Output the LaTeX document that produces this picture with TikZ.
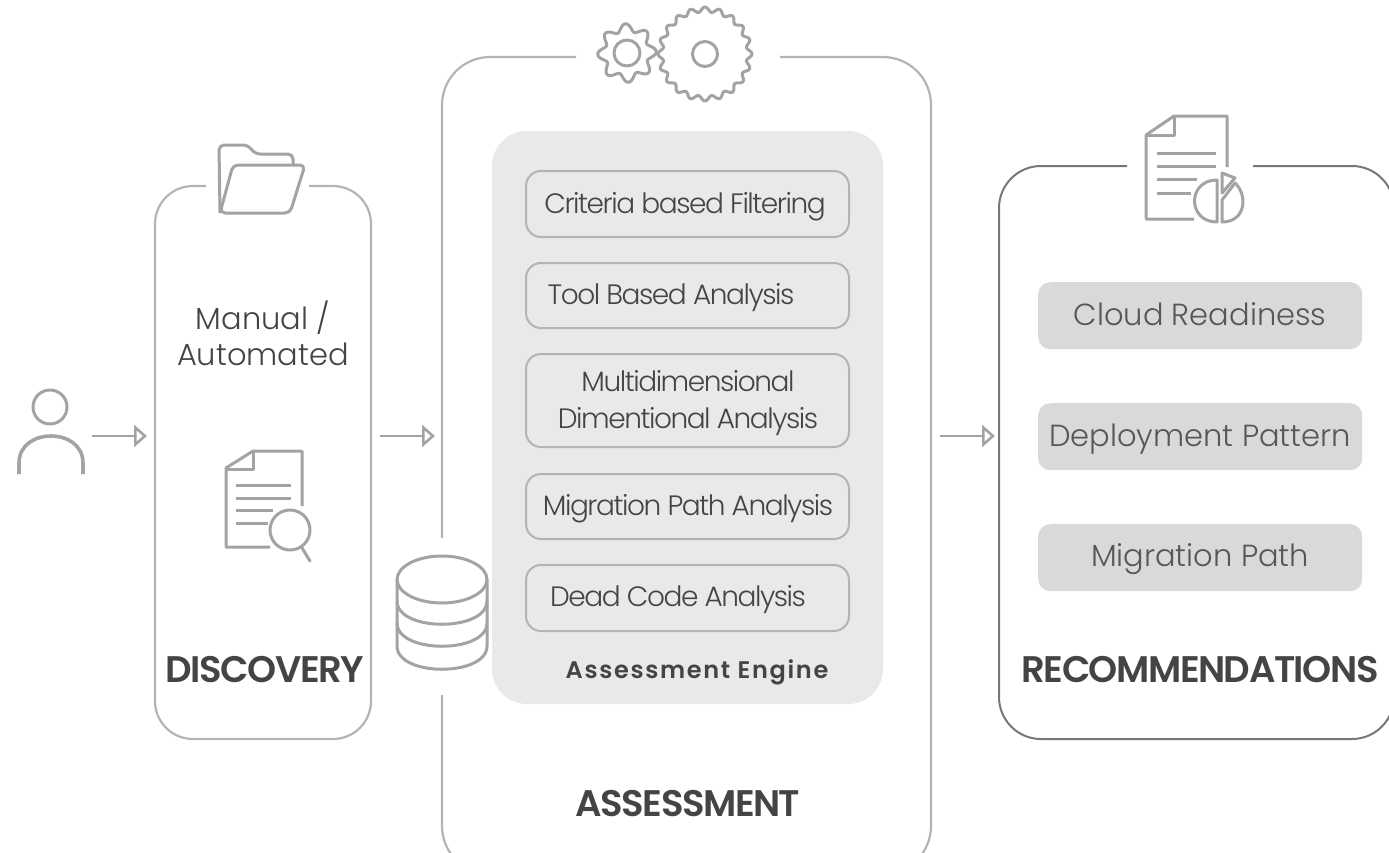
\documentclass[tikz,border=0pt]{standalone}
\usepackage{fontspec}
\usetikzlibrary{arrows.meta}
\newfontfamily\lightf[UprightFont=* Light,LetterSpace=-5.2]{Poppins}
\newfontfamily\lightw[UprightFont=* Light]{Poppins}
\newfontfamily\medf[UprightFont=* SemiBold,LetterSpace=-4]{Poppins}
\newfontfamily\medw[UprightFont=* SemiBold,LetterSpace=7]{Poppins}
\definecolor{icon}{HTML}{A3A3A3}
\definecolor{edge}{HTML}{B4B4B4}
\definecolor{dark}{HTML}{777777}
\definecolor{panel}{HTML}{E9E9E9}
\definecolor{chip}{HTML}{D9D9D9}
\definecolor{ink}{HTML}{444444}
\tikzset{
  x=1pt,y=-1pt,
  iconline/.style={draw=icon,line width=3pt,line join=round},
  frameline/.style={draw=edge,line width=2.2pt},
  flow/.style={draw=icon,line width=2.6pt,-{Triangle[open,length=13pt,width=22pt,line width=2.6pt]}},
  stepbox/.style={draw=edge,line width=2pt,fill=panel,rounded corners=15pt},
  chipbox/.style={fill=chip,rounded corners=12pt},
  steptext/.style={anchor=base,text=ink,font=\lightf\fontsize{28}{34}\selectfont,align=center,inner sep=0pt},
  chiptext/.style={anchor=base,text=ink!90,font=\lightw\fontsize{30.5}{36}\selectfont,inner sep=0pt},
  titletext/.style={anchor=base,text=ink,font=\medf\fontsize{37}{44}\selectfont,inner sep=0pt},
  plaintext/.style={anchor=base,text=ink,font=\lightw\fontsize{30.5}{37}\selectfont,inner sep=0pt},
}
\begin{document}
\begin{tikzpicture}
\useasboundingbox (0,0) rectangle (1389,852);
\clip (0,0) rectangle (1389,852);
% frames
\draw[frameline,rounded corners=38pt] (206,186) -- (155,186) -- (155,739) -- (371,739) -- (371,186) -- (309,186);
\draw[frameline,rounded corners=48pt] (576,57) -- (442,57) -- (442,538);
\draw[frameline,rounded corners=48pt] (442,695) -- (442,874) -- (931,874) -- (931,57) -- (780,57);
\draw[draw=dark,line width=2pt,rounded corners=42pt] (1127,166) -- (999,166) -- (999,739) -- (1394,739) -- (1394,166) -- (1253,166);
% engine panel
\fill[panel,rounded corners=35pt] (492,131) rectangle (883,704);
\node[stepbox,minimum width=323pt,minimum height=66pt,anchor=north west] (b1) at (525,170) {};
\node[stepbox,minimum width=323pt,minimum height=65pt,anchor=north west] (b2) at (525,262) {};
\node[stepbox,minimum width=323pt,minimum height=93pt,anchor=north west] (b3) at (525,353) {};
\node[stepbox,minimum width=323pt,minimum height=65pt,anchor=north west] (b4) at (525,473) {};
\node[stepbox,minimum width=323pt,minimum height=66pt,anchor=north west] (b5) at (525,564) {};
\node[steptext] (t1) at (685,213) {Criteria based Filtering};
\node[steptext] (t2) at (671,304) {Tool Based Analysis};
\node[steptext] (t3a) at (688,391) {Multidimensional};
\node[steptext] (t3b) at (688,428) {Dimentional Analysis};
\node[steptext] (t4) at (688,515) {Migration Path Analysis};
\node[steptext] (t5) at (678,606) {Dead Code Analysis};
\node[anchor=base,text=ink,font=\medw\fontsize{24}{28}\selectfont,inner sep=0pt] (eng) at (697,678) {Assessment Engine};
% chips
\node[chipbox,minimum width=324pt,minimum height=67pt,anchor=north west] (c1) at (1038,282) {};
\node[chipbox,minimum width=324pt,minimum height=67pt,anchor=north west] (c2) at (1038,403) {};
\node[chipbox,minimum width=324pt,minimum height=67pt,anchor=north west] (c3) at (1038,524) {};
\node[chiptext] (ct1) at (1200,325) {Cloud Readiness};
\node[chiptext] (ct2) at (1200,446) {Deployment Pattern};
\node[chiptext] (ct3) at (1200,566) {Migration Path};
% texts
\node[plaintext] (m1) at (263,329) {Manual /};
\node[plaintext] (m2) at (263,365) {Automated};
\node[titletext] (tD) at (265,682) {DISCOVERY};
\node[titletext] (tA) at (688,816) {ASSESSMENT};
\node[titletext] (tR) at (1200,682) {RECOMMENDATIONS};
% arrows
\coordinate (a1s) at (92,436); \coordinate (a1e) at (147,436);
\coordinate (a2s) at (380,436); \coordinate (a2e) at (435,436);
\coordinate (a3s) at (940,436); \coordinate (a3e) at (995,436);
\draw[flow] (a1s) -- (a1e);
\draw[flow] (a2s) -- (a2e);
\draw[flow] (a3s) -- (a3e);
% person
\draw[iconline] (50,407) circle (17);
\draw[iconline,line width=3.6pt] (19,474) -- (19,463) .. controls (19,427) and (83,427) .. (83,463) -- (83,474);
% folder
\begin{scope}[iconline,rounded corners=5pt]
\draw (220,213) -- (219,145) -- (248,145) -- (255,154) -- (293,154) -- (293,166);
\draw (220,213) -- (233,165) -- (305,165) -- (290,213) -- cycle;
\end{scope}
% doc with magnifier
\draw[iconline] (302,506) -- (302,451) -- (253,451) -- (226,468) -- (226,547) -- (270,547);
\draw[iconline] (253,451) -- (253,469) -- (226,469);
\draw[iconline] (236,485) -- (291,485) (236,498) -- (291,498) (236,510) -- (273,510) (236,523) -- (268,523);
\draw[iconline] (290,530) circle (20);
\draw[iconline,line cap=round] (302,548) -- (310,561);
% doc with pie
\draw[iconline] (1227,167) -- (1227,116) -- (1174,116) -- (1146,135) -- (1146,219) -- (1194,219);
\draw[iconline] (1174,116) -- (1174,135) -- (1146,135);
\draw[iconline] (1157,153) -- (1216,153) (1157,166) -- (1216,166) (1157,179) -- (1197,179) (1157,193) -- (1191,193);
\draw[iconline] (1217,180) .. controls (1187,180) and (1187,222) .. (1217,222) -- cycle;
\draw[iconline] (1222,222) -- (1222,200) -- (1235,183) .. controls (1248,195) and (1246,222) .. (1222,222) -- cycle;
\draw[iconline] (1222,173) -- (1235,178) -- (1222,193) -- cycle;
% gears
\draw[iconline] plot[domain=0:358,samples=120,smooth] ({627+(25.5+3.8*cos(8*\x+22))*cos(\x)},{53+(25.5+3.8*cos(8*\x+22))*sin(\x)}) -- cycle;
\draw[iconline] (627,53) circle (13);
\draw[iconline] plot[domain=0:359,samples=240,smooth] ({705+(44.5+2.5*cos(20*\x))*cos(\x)},{54+(44.5+2.5*cos(20*\x))*sin(\x)}) -- cycle;
\draw[iconline] (705,54) circle (12.5);
% database
\draw[iconline] (442,579.5) ellipse (45 and 23.5);
\draw[iconline] (397,579.5) -- (397,646) .. controls (397,677) and (487,677) .. (487,646) -- (487,579.5);
\draw[iconline] (397,601) .. controls (397,632) and (487,632) .. (487,601);
\draw[iconline] (397,623) .. controls (397,654) and (487,654) .. (487,623);
\end{tikzpicture}
\end{document}
